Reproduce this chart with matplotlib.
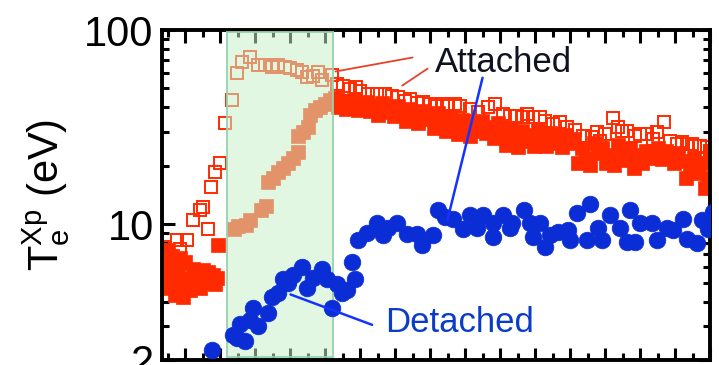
import matplotlib
matplotlib.use("Agg")
import matplotlib.pyplot as plt
from matplotlib.ticker import FixedLocator, MultipleLocator, NullFormatter

plt.rcParams['font.family'] = ['Liberation Sans', 'DejaVu Sans']
plt.rcParams['mathtext.fontset'] = 'custom'
plt.rcParams['mathtext.rm'] = 'Liberation Sans'
plt.rcParams['mathtext.it'] = 'Liberation Sans'

# attached branch, open squares (time in s, Te at X-point in eV)
t_open = [0.64, 0.64, 0.64, 0.69, 0.71, 0.79, 0.89, 0.93, 1.03, 1.11, 1.21, 1.26,
          1.33, 1.37, 1.43, 1.50, 1.57, 1.67, 1.74, 1.81, 1.93, 2.04, 2.14, 2.24,
          2.33, 2.43, 2.50, 2.60, 2.67, 2.74, 2.83, 2.90, 2.96, 3.10, 3.17, 3.26,
          3.36, 3.44, 3.50, 3.61, 3.74, 3.86, 3.96, 4.04, 4.14, 4.21, 4.31, 4.40,
          4.50, 4.60, 4.69, 4.74, 4.86, 4.93, 5.07, 5.19, 5.33, 5.43, 5.54, 5.64,
          5.74, 5.83, 5.89, 5.97, 6.07, 6.14, 6.26, 6.36, 6.46, 6.57, 6.69, 6.81,
          6.89, 6.93, 7.00, 7.11, 7.19, 7.24, 7.31, 7.43, 7.50, 7.60, 7.69, 7.74,
          7.84, 7.93, 8.03, 8.10, 8.17, 8.24, 8.29, 8.36, 8.46, 8.50]
te_open = [7.4, 5.8, 4.9, 7.6, 6.4, 6.9, 8.3, 7.5, 8.3, 10.5, 11.8, 12.2,
           9.5, 15.5, 18.5, 20.6, 33.2, 43.6, 60.1, 68.4, 72.6, 66.0, 66.0, 64.5,
           66.0, 64.5, 63.7, 62.2, 60.8, 57.3, 57.9, 60.8, 55.2, 58.6, 52.7, 51.6,
           49.8, 50.9, 48.5, 46.9, 46.9, 46.9, 45.8, 45.2, 43.2, 44.1, 42.1, 42.6,
           41.6, 40.6, 41.6, 40.6, 41.6, 40.6, 39.2, 37.8, 40.1, 41.6, 37.0, 36.1,
           36.1, 35.7, 37.0, 35.7, 35.7, 34.0, 32.8, 33.6, 31.7, 30.6, 28.5, 28.2,
           29.8, 26.8, 29.1, 35.2, 31.7, 30.2, 30.2, 28.5, 29.1, 29.1, 27.5, 29.8,
           33.6, 26.8, 25.9, 26.5, 25.9, 25.9, 25.3, 25.3, 25.0, 23.8]

# attached branch, filled squares
t_fill = [0.69, 0.71, 0.74, 0.76, 0.79, 0.81, 0.81, 0.86, 0.90, 0.93, 0.93, 0.97,
          1.00, 1.04, 1.07, 1.11, 1.14, 1.19, 1.21, 1.26, 1.29, 1.33, 1.36, 1.40,
          1.43, 1.46, 1.47,
          1.70, 1.76, 1.87, 1.93, 2.09, 2.16, 2.19, 2.26, 2.33, 2.40, 2.47, 2.54,
          2.61, 2.61, 2.69, 2.76, 2.79, 2.86, 2.93, 3.00, 3.07,
          3.14, 3.19, 3.24, 3.30, 3.36, 3.41, 3.47, 3.53, 3.59, 3.64, 3.70, 3.76,
          3.81, 3.87, 3.93, 3.99, 4.04, 4.10, 4.16, 4.21, 4.27, 4.33, 4.39, 4.44,
          4.50, 4.56, 4.61, 4.67, 4.73, 4.79, 4.84, 4.90, 4.96, 5.01, 5.07, 5.13,
          5.19, 5.24, 5.30, 5.36, 5.41, 5.47, 5.53, 5.59, 5.64, 5.70, 5.76, 5.81,
          5.87, 5.93, 5.99, 6.04, 6.10, 6.16, 6.21, 6.27, 6.33, 6.39, 6.44, 6.50,
          6.56, 6.61, 6.67, 6.73, 6.79, 6.84, 6.90, 6.96, 7.01, 7.07, 7.13, 7.19,
          7.24, 7.30, 7.36, 7.41, 7.47, 7.53, 7.59, 7.64, 7.70, 7.76, 7.81, 7.87,
          7.93, 7.99, 8.04, 8.10, 8.16, 8.21, 8.27, 8.33, 8.39, 8.43, 8.47, 8.50]
te_fill = [6.7, 5.5, 4.7, 7.4, 6.2, 5.2, 6.9, 4.3, 5.8, 4.9, 6.7, 4.2,
           6.4, 5.25, 4.6, 5.9, 5.05, 5.5, 4.7, 5.8, 5.2, 5.7, 5.0, 5.5,
           4.9, 5.3, 7.8,
           9.4, 9.8, 9.9, 10.5, 11.8, 12.4, 16.5, 17.3, 18.5, 19.4, 20.6, 21.9,
           23.5, 28.4, 29.8, 31.6, 36.5, 38.7, 40.1, 41.5, 43.6,
           44.6, 40.1, 43.1, 39.1, 42.1, 43.6, 38.7, 41.0, 42.5, 38.2, 40.6, 36.5,
           42.1, 37.8, 39.6, 36.0, 40.6, 37.4, 34.0, 39.1, 35.6, 33.2, 38.2, 34.8,
           36.5, 31.3, 37.4, 33.6, 30.2, 35.6, 32.4, 29.1, 34.4, 30.9, 28.5, 33.2,
           30.2, 34.0, 29.5, 31.7, 27.8, 33.2, 29.5, 25.6, 31.3, 27.4, 24.9, 30.2,
           26.8, 28.8, 25.3, 30.5, 27.4, 25.3, 29.5, 26.2, 28.1, 24.9, 28.8, 26.2,
           27.4, 20.7, 24.6, 21.9, 20.2, 26.2, 23.3, 24.6, 20.7, 22.7, 20.2, 25.6,
           23.3, 21.4, 24.6, 19.5, 22.7, 20.7, 23.8, 21.9, 23.3, 24.6, 21.6, 23.8,
           22.4, 20.7, 23.3, 21.2, 17.3, 19.5, 21.9, 18.4, 20.7, 15.4, 17.3, 23.3]

# detached branch, filled circles
t_det = [1.39, 1.69, 1.74, 1.79, 1.86, 1.93, 1.97, 2.04, 2.19, 2.24, 2.33, 2.40,
         2.47, 2.54, 2.67, 2.74, 2.83, 2.96, 3.03, 3.10, 3.17, 3.24, 3.31, 3.39,
         3.43, 3.47, 3.60, 3.74, 3.83, 3.90, 4.03, 4.17, 4.31, 4.39, 4.54, 4.61,
         4.71, 4.83, 4.97, 5.07, 5.17, 5.26, 5.40, 5.40, 5.54, 5.64, 5.67, 5.84,
         5.93, 5.97, 6.07, 6.14, 6.21, 6.33, 6.47, 6.50, 6.60, 6.74, 6.79, 6.90,
         6.96, 7.07, 7.21, 7.31, 7.36, 7.43, 7.50, 7.67, 7.74, 7.89, 7.97, 8.11,
         8.17, 8.31, 8.39, 8.47, 8.54]
te_det = [2.26, 2.68, 2.6, 3.05, 2.5, 3.2, 3.7, 3.0, 3.5, 4.2, 4.4, 5.25,
          5.0, 5.5, 6.0, 4.7, 5.3, 5.9, 5.2, 3.7, 4.9, 4.4, 4.6, 6.4,
          5.25, 8.3, 9.0, 10.1, 8.8, 9.6, 10.1, 8.9, 8.9, 7.8, 8.8, 11.8,
          10.9, 10.7, 9.5, 11.2, 9.6, 11.2, 10.2, 8.6, 11.1, 9.6, 10.2, 11.8,
          10.1, 8.6, 10.1, 7.6, 8.8, 9.1, 9.3, 8.3, 11.4, 8.3, 12.7, 9.6,
          8.3, 11.1, 9.6, 8.1, 11.8, 8.1, 10.1, 10.1, 8.3, 9.6, 9.3, 10.7,
          8.4, 8.0, 10.5, 9.5, 11.5]

# transition window
t_window = (1.60, 3.11)

red = '#ff2a00'
blue = '#0a2dd6'

fig = plt.figure(figsize=(7.19, 3.65), dpi=100)
ax = fig.add_axes([0.2253, 0.0137, 0.7622, 0.9041])

ax.plot(t_open, te_open, 's', ms=9.2, mfc='none', mec=red, mew=1.4, zorder=2)
ax.plot(t_fill, te_fill, 's', ms=9.8, mfc=red, mec=red, mew=0.5, zorder=2.1)

ax.axvspan(t_window[0], t_window[1], ymin=0.008, ymax=0.993,
           facecolor='#caf1ca', alpha=0.53, edgecolor='none', zorder=3)
ax.axvspan(t_window[0], t_window[1], ymin=0.008, ymax=0.993,
           facecolor='none', edgecolor='#96d2af', lw=1.3, zorder=3.1)

ax.plot(t_det, te_det, 'o', ms=12, mfc=blue, mec=blue, mew=0.5, zorder=4)

# labels with leader lines
ax.text(4.57, 60.8, 'Attached', fontsize=25, color='#10131f',
        ha='left', va='baseline', zorder=6)
ax.annotate('', xy=(3.11, 60.8), xytext=(4.29, 72.6),
            arrowprops=dict(arrowstyle='-', color='#e8402a', lw=1.3), zorder=5)
ax.annotate('', xy=(4.07, 50.8), xytext=(4.50, 64.5),
            arrowprops=dict(arrowstyle='-', color='#e8402a', lw=1.3), zorder=5)
ax.annotate('', xy=(4.74, 10.2), xytext=(5.26, 58.6),
            arrowprops=dict(arrowstyle='-', color='#1433ff', lw=1.8), zorder=5)

ax.text(3.86, 2.8, 'Detached', fontsize=25, color='#0a3cc8',
        ha='left', va='baseline', zorder=6)
ax.annotate('', xy=(2.47, 4.4), xytext=(3.71, 3.0),
            arrowprops=dict(arrowstyle='-', color='#1433ff', lw=1.8), zorder=5)

ax.set_yscale('log')
ax.set_ylim(2, 100)
ax.set_xlim(0.671, 8.5)

ax.yaxis.set_major_locator(FixedLocator([2, 10, 100]))
ax.yaxis.set_minor_locator(FixedLocator([3, 4, 5, 6, 7, 8, 9,
                                         20, 30, 40, 50, 60, 70, 80, 90]))
ax.yaxis.set_minor_formatter(NullFormatter())
ax.set_yticklabels(['2', '10', '100'])
ax.xaxis.set_major_locator(MultipleLocator(0.5))
ax.xaxis.set_minor_locator(MultipleLocator(0.25))
ax.set_xticklabels([])

ax.tick_params(which='both', direction='in', top=True, right=True,
               width=2.2, color='black', labelsize=30, pad=6)
ax.tick_params(which='major', length=9)
ax.tick_params(which='minor', length=5)
for s in ax.spines.values():
    s.set_linewidth(2.8)

ax.set_ylabel(r'$\mathrm{T_e^{Xp}}$ (eV)', fontsize=30)
ax.yaxis.set_label_coords(-0.165, 0.5)

fig.savefig('out.png', dpi=100)
